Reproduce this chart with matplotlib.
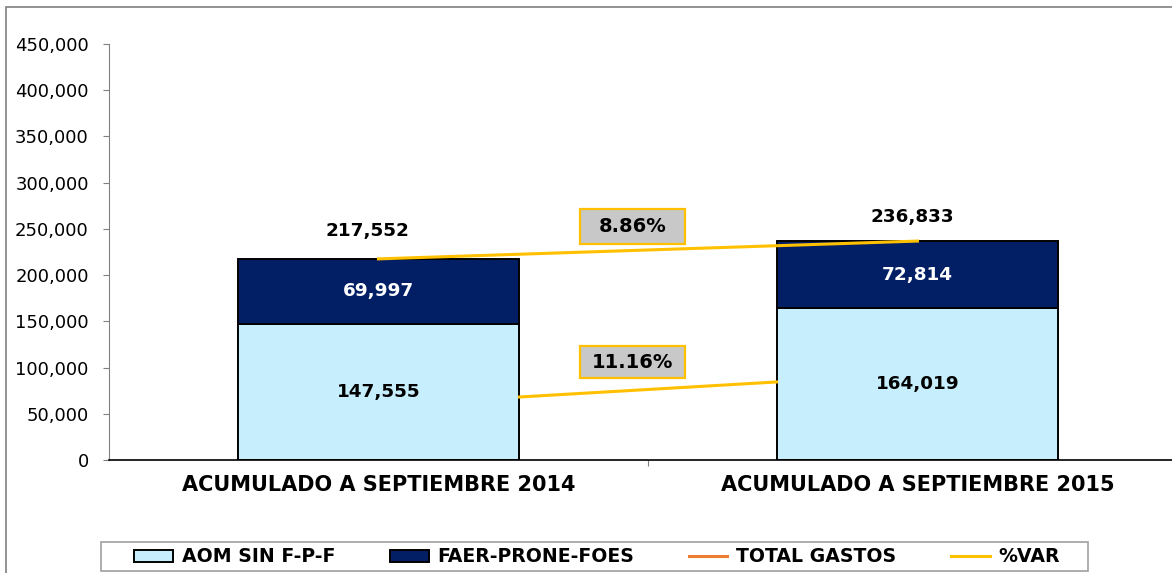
import matplotlib
matplotlib.use("Agg")
import matplotlib.pyplot as plt
from matplotlib.patches import Rectangle, Patch
from matplotlib.lines import Line2D
from matplotlib.ticker import FuncFormatter

# -----------------------------
# DATA
# -----------------------------
categories = ["ACUMULADO A SEPTIEMBRE 2014", "ACUMULADO A SEPTIEMBRE 2015"]
aom = [147555, 164019]
faer = [69997, 72814]
totals = [217552, 236833]
var_labels = ["8.86%", "11.16%"]
aom_line = [68150, 84400]   # connector drawn between the light blue bars
legend_names = ["AOM SIN F-P-F", "FAER-PRONE-FOES", "TOTAL GASTOS", "%VAR"]

light_blue = "#C6EEFC"
navy = "#021F66"
orange = "#ED7D31"
gold = "#FFC000"

plt.rcParams["font.family"] = ["DejaVu Sans"]

fig = plt.figure(figsize=(11.72, 5.73), dpi=100)
W, H = 1172, 573

# outer chart frame (cropped on right and bottom)
fig.add_artist(Rectangle((6 / W, -0.05), 1.2, 1 - 7 / H + 0.05,
                         transform=fig.transFigure, fill=False,
                         edgecolor="#7F7F7F", linewidth=1.2))

ax = fig.add_axes([109 / W, 1 - 460 / H, 1078 / W, 416 / H])

x = [0, 1]
width = 0.523
ax.bar(x, aom, width, color=light_blue, edgecolor="black", linewidth=1.4)
ax.bar(x, faer, width, bottom=aom, color=navy, edgecolor="black", linewidth=1.4)

ax.set_xlim(-0.5, 1.5)
ax.set_ylim(0, 450000)
ax.set_yticks(range(0, 450001, 50000))
ax.yaxis.set_major_formatter(FuncFormatter(lambda v, p: f"{int(v):,}"))
ax.set_xticks([0.5])
ax.set_xticklabels([])
ax.tick_params(axis="x", length=4, color="#808080")
ax.tick_params(axis="y", length=4.5, color="#808080", labelsize=13, pad=10)
for s in ["top", "right"]:
    ax.spines[s].set_visible(False)
ax.spines["left"].set_color("#808080")
ax.spines["bottom"].set_color("black")
ax.spines["bottom"].set_linewidth(1.2)

for i, c in enumerate(categories):
    ax.text(x[i], -27000, c, ha="center", va="center", fontsize=15,
            fontweight="bold")

# %VAR lines
ax.plot(x, totals, color=gold, linewidth=2.2, zorder=4)
ax.plot([x[0] + width / 2, x[1] - width / 2], aom_line, color=gold,
        linewidth=2.2, zorder=4)

# value labels
for i in range(2):
    ax.text(x[i], aom[i] / 2, f"{aom[i]:,}", ha="center", va="center",
            fontsize=13.2, fontweight="bold", color="black")
    ax.text(x[i], aom[i] + faer[i] / 2, f"{faer[i]:,}", ha="center",
            va="center", fontsize=13.2, fontweight="bold", color="white")
ax.text(x[0] - 0.02, totals[0] + 30000, f"{totals[0]:,}", ha="center",
        va="center", fontsize=13.2, fontweight="bold")
ax.text(x[1] - 0.01, totals[1] + 26000, f"{totals[1]:,}", ha="center",
        va="center", fontsize=13.2, fontweight="bold")

# %VAR boxes
box_x = 0.374
box_w = 0.195
for lab, (y0, y1) in zip(var_labels, [(233650, 271500), (88700, 123300)]):
    ax.add_patch(Rectangle((box_x, y0), box_w, y1 - y0, facecolor="#C8C8C8",
                           edgecolor=gold, linewidth=1.6, zorder=5))
    ax.text(box_x + box_w / 2, (y0 + y1) / 2, lab, ha="center", va="center",
            fontsize=14, fontweight="bold", zorder=6)

# legend
fig.add_artist(Rectangle((101 / W, 1 - 571 / H), 987 / W, 29 / H,
                         transform=fig.transFigure, fill=False,
                         edgecolor="#A0A0A0", linewidth=1.2))
handles = [
    Patch(facecolor=light_blue, edgecolor="black", linewidth=1.4),
    Patch(facecolor=navy, edgecolor="black", linewidth=1.4),
    Line2D([0], [0], color=orange, linewidth=2.2),
    Line2D([0], [0], color=gold, linewidth=2.2),
]
leg = fig.legend(handles, legend_names, loc="center", ncol=4,
                 bbox_to_anchor=(597 / W, 1 - 557 / H),
                 frameon=False, prop={"weight": "bold", "size": 13.6},
                 handlelength=2.05, handleheight=0.63, handletextpad=0.45,
                 columnspacing=2.9, borderpad=0.1)

fig.savefig("out.png", dpi=100)
